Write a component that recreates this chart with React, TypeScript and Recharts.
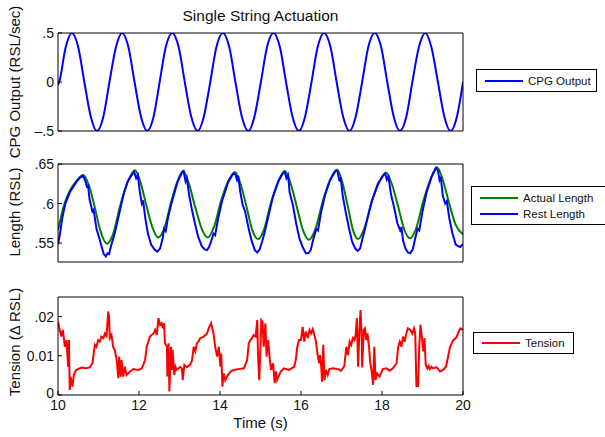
import { LineChart, Line, XAxis, YAxis } from "recharts";

const FONT = '"Liberation Sans", Arial, Helvetica, sans-serif';

const timeTicks = [10, 12, 14, 16, 18, 20];
const cpgTicks = [-0.5, 0, 0.5];
const lengthTicks = [0.55, 0.6, 0.65];
const tensionTicks = [0, 0.01, 0.02];

const cpgTickLabels: Record<string, string> = { "-0.5": "\u2013.5", "0": "0", "0.5": ".5" };
const lengthTickLabels: Record<string, string> = { "0.55": ".55", "0.6": ".6", "0.65": ".65" };
const tensionTickLabels: Record<string, string> = { "0": "0", "0.01": "0.01", "0.02": ".02" };

// [time (s), value]
const cpgOutput: [number, number][] = [
  [10.0, -0.03], [10.03, 0], [10.19, 0.354], [10.34, 0.5], [10.5, 0.354], [10.65, 0],
  [10.81, -0.354], [10.96, -0.5], [11.12, -0.354], [11.27, 0], [11.43, 0.354], [11.58, 0.5],
  [11.74, 0.354], [11.89, 0], [12.05, -0.354], [12.2, -0.5], [12.36, -0.354], [12.51, 0],
  [12.66, 0.354], [12.82, 0.5], [12.98, 0.354], [13.13, 0], [13.29, -0.354], [13.45, -0.5],
  [13.6, -0.354], [13.76, 0], [13.91, 0.354], [14.07, 0.5], [14.23, 0.354], [14.38, 0],
  [14.54, -0.354], [14.7, -0.5], [14.85, -0.354], [15.01, 0], [15.16, 0.354], [15.32, 0.5],
  [15.48, 0.354], [15.63, 0], [15.79, -0.354], [15.95, -0.5], [16.1, -0.354], [16.26, 0],
  [16.41, 0.354], [16.57, 0.5], [16.73, 0.354], [16.88, 0], [17.04, -0.354], [17.2, -0.5],
  [17.35, -0.354], [17.51, 0], [17.66, 0.354], [17.82, 0.5], [17.98, 0.354], [18.13, 0],
  [18.29, -0.354], [18.44, -0.5], [18.6, -0.354], [18.75, 0], [18.91, 0.354], [19.07, 0.5],
  [19.22, 0.354], [19.38, 0], [19.54, -0.354], [19.69, -0.5], [19.85, -0.354], [20.0, 0],
];

const actualLength: [number, number][] = [
  [10.0, 0.566], [10.15, 0.598], [10.3, 0.617], [10.45, 0.628], [10.62, 0.636], [10.75, 0.625],
  [10.9, 0.597], [11.05, 0.565], [11.21, 0.549], [11.35, 0.56], [11.55, 0.6], [11.72, 0.627],
  [11.9, 0.642], [12.03, 0.628], [12.18, 0.598], [12.33, 0.57], [12.47, 0.557], [12.62, 0.568],
  [12.8, 0.603], [12.95, 0.628], [13.09, 0.641], [13.22, 0.627], [13.38, 0.597], [13.55, 0.568],
  [13.7, 0.557], [13.85, 0.57], [14.03, 0.604], [14.2, 0.628], [14.37, 0.64], [14.5, 0.626],
  [14.65, 0.597], [14.8, 0.566], [14.94, 0.555], [15.08, 0.566], [15.27, 0.603], [15.44, 0.628],
  [15.6, 0.641], [15.74, 0.626], [15.9, 0.595], [16.05, 0.566], [16.2, 0.554], [16.35, 0.567],
  [16.55, 0.605], [16.72, 0.63], [16.89, 0.643], [17.02, 0.627], [17.15, 0.598], [17.28, 0.567],
  [17.41, 0.555], [17.56, 0.568], [17.75, 0.603], [17.93, 0.627], [18.1, 0.639], [18.24, 0.625],
  [18.4, 0.596], [18.55, 0.567], [18.69, 0.556], [18.84, 0.568], [19.02, 0.603], [19.2, 0.631],
  [19.36, 0.646], [19.5, 0.63], [19.66, 0.6], [19.82, 0.573], [20.0, 0.561],
];

const restLength: [number, number][] = [
  [10.0, 0.548], [10.05, 0.562], [10.1, 0.58], [10.18, 0.6], [10.3, 0.615], [10.45, 0.627],
  [10.55, 0.633], [10.62, 0.635], [10.68, 0.628], [10.72, 0.62], [10.74, 0.624], [10.78, 0.605],
  [10.85, 0.59], [10.88, 0.592], [10.95, 0.568], [11.02, 0.556], [11.08, 0.545], [11.13, 0.536],
  [11.18, 0.533], [11.22, 0.537], [11.26, 0.536], [11.32, 0.548], [11.4, 0.562], [11.48, 0.58],
  [11.55, 0.596], [11.62, 0.612], [11.72, 0.628], [11.82, 0.636], [11.88, 0.64], [11.93, 0.632],
  [11.97, 0.636], [12.02, 0.615], [12.07, 0.6], [12.1, 0.604], [12.16, 0.58], [12.22, 0.562],
  [12.3, 0.548], [12.38, 0.542], [12.45, 0.539], [12.52, 0.543], [12.58, 0.555], [12.62, 0.568],
  [12.66, 0.565], [12.72, 0.583], [12.8, 0.6], [12.95, 0.627], [13.06, 0.639], [13.1, 0.641],
  [13.15, 0.628], [13.18, 0.632], [13.24, 0.61], [13.3, 0.594], [13.38, 0.575], [13.46, 0.558],
  [13.55, 0.546], [13.62, 0.542], [13.68, 0.541], [13.73, 0.545], [13.78, 0.552], [13.84, 0.562],
  [13.88, 0.56], [13.95, 0.58], [14.05, 0.603], [14.2, 0.627], [14.33, 0.638], [14.38, 0.637],
  [14.42, 0.63], [14.45, 0.635], [14.5, 0.615], [14.56, 0.598], [14.62, 0.59], [14.7, 0.57],
  [14.78, 0.553], [14.86, 0.541], [14.92, 0.538], [14.98, 0.542], [15.04, 0.552], [15.1, 0.563],
  [15.2, 0.585], [15.3, 0.607], [15.44, 0.628], [15.55, 0.638], [15.6, 0.64], [15.64, 0.632],
  [15.68, 0.636], [15.72, 0.614], [15.8, 0.598], [15.88, 0.575], [15.96, 0.556], [16.04, 0.545],
  [16.12, 0.537], [16.18, 0.537], [16.24, 0.541], [16.3, 0.554], [16.38, 0.568], [16.42, 0.566],
  [16.5, 0.59], [16.6, 0.612], [16.72, 0.63], [16.85, 0.641], [16.9, 0.641], [16.95, 0.628],
  [16.98, 0.633], [17.03, 0.61], [17.1, 0.59], [17.18, 0.57], [17.26, 0.552], [17.34, 0.543],
  [17.4, 0.54], [17.46, 0.543], [17.52, 0.556], [17.58, 0.568], [17.66, 0.585], [17.75, 0.603],
  [17.9, 0.625], [18.02, 0.635], [18.08, 0.638], [18.12, 0.63], [18.16, 0.634], [18.22, 0.612],
  [18.3, 0.595], [18.38, 0.575], [18.45, 0.566], [18.48, 0.57], [18.52, 0.553], [18.58, 0.543],
  [18.64, 0.538], [18.7, 0.537], [18.76, 0.542], [18.82, 0.556], [18.88, 0.568], [18.92, 0.566],
  [19.0, 0.59], [19.1, 0.614], [19.22, 0.633], [19.33, 0.645], [19.38, 0.642], [19.42, 0.63],
  [19.45, 0.634], [19.5, 0.61], [19.56, 0.6], [19.6, 0.603], [19.66, 0.582], [19.74, 0.562],
  [19.82, 0.548], [19.88, 0.546], [19.93, 0.545], [20.0, 0.549],
];

const tension: [number, number][] = [
  [10.0, 0.0187], [10.08, 0.0149], [10.12, 0.0166], [10.17, 0.0123], [10.21, 0.014], [10.25, 0.0072],
  [10.27, 0.014], [10.29, 0.0013], [10.31, 0.0047], [10.36, 0.0021], [10.39, 0.0051], [10.45, 0.0064],
  [10.58, 0.007], [10.7, 0.0068], [10.79, 0.0071], [10.85, 0.0081], [10.91, 0.0128], [10.95, 0.0123],
  [10.99, 0.014], [11.03, 0.0136], [11.07, 0.0149], [11.12, 0.0145], [11.16, 0.0157], [11.2, 0.0151],
  [11.24, 0.0213], [11.26, 0.02], [11.28, 0.0145], [11.32, 0.0153], [11.36, 0.0123], [11.4, 0.0115],
  [11.45, 0.0089], [11.49, 0.0043], [11.51, 0.0098], [11.55, 0.0047], [11.57, 0.0089], [11.61, 0.0047],
  [11.65, 0.0072], [11.69, 0.0051], [11.78, 0.006], [11.86, 0.0066], [11.98, 0.0064], [12.07, 0.0068],
  [12.15, 0.0089], [12.19, 0.0123], [12.23, 0.0136], [12.27, 0.0149], [12.31, 0.0153], [12.36, 0.0157],
  [12.4, 0.0166], [12.44, 0.0153], [12.48, 0.0196], [12.52, 0.0179], [12.56, 0.0183], [12.59, 0.017],
  [12.62, 0.0183], [12.64, 0.0132], [12.69, 0.0123], [12.7, 0.0047], [12.73, 0.0132], [12.75, 0.0009],
  [12.79, 0.0123], [12.81, 0.0064], [12.83, 0.0115], [12.87, 0.0051], [12.9, 0.0072], [12.93, 0.0064],
  [12.98, 0.0068], [13.02, 0.0072], [13.06, 0.0068], [13.08, 0.0038], [13.12, 0.0077], [13.18, 0.0071],
  [13.26, 0.0077], [13.31, 0.0089], [13.35, 0.0123], [13.39, 0.0111], [13.43, 0.0132], [13.47, 0.0136],
  [13.51, 0.0145], [13.6, 0.0149], [13.68, 0.0157], [13.72, 0.017], [13.78, 0.0183], [13.84, 0.0157],
  [13.88, 0.0123], [13.93, 0.0098], [13.97, 0.0123], [14.01, 0.0072], [14.03, 0.0106], [14.06, 0.0021],
  [14.09, 0.0055], [14.13, 0.0038], [14.17, 0.0047], [14.26, 0.006], [14.34, 0.0064], [14.46, 0.0066],
  [14.59, 0.0068], [14.67, 0.0089], [14.71, 0.0132], [14.75, 0.014], [14.79, 0.0145], [14.83, 0.0153],
  [14.88, 0.0149], [14.92, 0.0191], [14.94, 0.0098], [14.97, 0.0038], [15.0, 0.0123], [15.02, 0.0191],
  [15.05, 0.0187], [15.08, 0.0123], [15.12, 0.0183], [15.15, 0.0098], [15.19, 0.014], [15.23, 0.0089],
  [15.26, 0.0064], [15.31, 0.0081], [15.35, 0.003], [15.38, 0.006], [15.41, 0.0038], [15.5, 0.006],
  [15.58, 0.0068], [15.7, 0.0064], [15.83, 0.0072], [15.87, 0.0089], [15.91, 0.0123], [15.95, 0.014],
  [16.0, 0.014], [16.04, 0.0174], [16.08, 0.0136], [16.12, 0.0162], [16.17, 0.0145], [16.21, 0.0166],
  [16.25, 0.0157], [16.29, 0.0168], [16.33, 0.0153], [16.37, 0.0136], [16.41, 0.0102], [16.45, 0.0081],
  [16.47, 0.0102], [16.5, 0.0072], [16.52, 0.0034], [16.55, 0.0128], [16.58, 0.0038], [16.62, 0.0064],
  [16.66, 0.0051], [16.7, 0.0066], [16.79, 0.0068], [16.91, 0.0066], [16.99, 0.0062], [17.07, 0.0074],
  [17.12, 0.0123], [17.16, 0.0102], [17.2, 0.0136], [17.24, 0.0128], [17.28, 0.0145], [17.32, 0.014],
  [17.35, 0.0153], [17.38, 0.0196], [17.41, 0.0072], [17.45, 0.0183], [17.47, 0.0217], [17.5, 0.0149],
  [17.51, 0.007], [17.55, 0.0166], [17.58, 0.017], [17.61, 0.014], [17.64, 0.0157], [17.68, 0.0123],
  [17.71, 0.0081], [17.74, 0.0064], [17.78, 0.0026], [17.81, 0.0123], [17.84, 0.0038], [17.88, 0.0055],
  [17.94, 0.0047], [18.02, 0.0066], [18.11, 0.0068], [18.19, 0.0062], [18.27, 0.0068], [18.36, 0.0081],
  [18.4, 0.0123], [18.44, 0.0136], [18.48, 0.0123], [18.52, 0.0149], [18.56, 0.0136], [18.6, 0.0157],
  [18.64, 0.017], [18.7, 0.0166], [18.75, 0.0157], [18.79, 0.017], [18.82, 0.0157], [18.85, 0.0023],
  [18.89, 0.0023], [18.92, 0.0123], [18.95, 0.0179], [18.98, 0.0153], [19.02, 0.0111], [19.05, 0.0145],
  [19.08, 0.0077], [19.12, 0.0068], [19.15, 0.0074], [19.18, 0.0066], [19.22, 0.0072], [19.26, 0.0068],
  [19.35, 0.0071], [19.43, 0.006], [19.51, 0.0064], [19.58, 0.0072], [19.64, 0.0102], [19.68, 0.0123],
  [19.76, 0.014], [19.84, 0.0147], [19.91, 0.0166], [19.94, 0.017], [20.0, 0.0166],
];

const toRows = (pts: [number, number][]) => pts.map(([t, v]) => ({ t, v }));

const tickStyle = { fontSize: 14, fill: "#111", fontFamily: FONT };

// y tick label; the lowest one is lifted a little when x labels sit right below it
const yTickRenderer = (labels: Record<string, string>, lowest: number, lift: number) => (props: any) => {
  const { x, y, payload } = props;
  const dy = payload.value === lowest ? -lift : 0;
  return (
    <text
      x={x}
      y={y + dy}
      textAnchor="end"
      dominantBaseline="central"
      fontSize={14}
      fill="#111"
      fontFamily={FONT}
    >
      {labels[String(payload.value)] ?? String(payload.value)}
    </text>
  );
};

// shared frame: box with inward ticks on all four sides
function frameAxes(
  yDomain: [number, number],
  yTicks: number[],
  labels: Record<string, string>,
  showX: boolean
) {
  return [
    <XAxis
      key="xb"
      xAxisId="b"
      dataKey="t"
      type="number"
      domain={[10, 20]}
      ticks={timeTicks}
      interval={0}
      allowDataOverflow
      height={showX ? 42 : 1}
      tickSize={-4}
      tickMargin={9}
      tick={showX ? tickStyle : false}
      stroke="#000"
      tickLine={{ stroke: "#000" }}
      label={showX ? { value: "Time (s)", position: "insideBottom", offset: 9, fontSize: 15, fill: "#111", fontFamily: FONT } : undefined}
    />,
    <XAxis
      key="xt"
      xAxisId="t"
      orientation="top"
      dataKey="t"
      type="number"
      domain={[10, 20]}
      ticks={timeTicks}
      interval={0}
      allowDataOverflow
      height={1}
      tickSize={-4}
      tick={false}
      stroke="#000"
      tickLine={{ stroke: "#000" }}
    />,
    <YAxis
      key="yl"
      yAxisId="l"
      type="number"
      domain={yDomain}
      ticks={yTicks}
      interval={0}
      allowDataOverflow
      width={58}
      tickSize={-4}
      tickMargin={8}
      tick={yTickRenderer(labels, yTicks[0], showX ? 2.5 : 0)}
      stroke="#000"
      tickLine={{ stroke: "#000" }}
    />,
    <YAxis
      key="yr"
      yAxisId="r"
      orientation="right"
      type="number"
      domain={yDomain}
      ticks={yTicks}
      interval={0}
      allowDataOverflow
      width={1}
      tickSize={-4}
      tick={false}
      stroke="#000"
      tickLine={{ stroke: "#000" }}
    />,
  ];
}

function YTitle({ text, cy }: { text: string; cy: number }) {
  return (
    <div
      style={{
        position: "absolute",
        left: 15 - 100,
        top: cy - 9,
        width: 200,
        height: 18,
        lineHeight: "18px",
        textAlign: "center",
        transform: "rotate(-90deg)",
        fontSize: 15,
        fontFamily: FONT,
        color: "#111",
        whiteSpace: "nowrap",
      }}
    >
      {text}
    </div>
  );
}

function LegendBox({
  left,
  top,
  width,
  height,
  items,
}: {
  left: number;
  top: number;
  width: number;
  height: number;
  items: { label: string; color: string; y: number }[];
}) {
  return (
    <div
      style={{
        position: "absolute",
        left,
        top,
        width,
        height,
        border: "1px solid #000",
        background: "#fff",
        boxSizing: "border-box",
      }}
    >
      {items.map((it) => (
        <div key={it.label}>
          <div
            style={{
              position: "absolute",
              left: 8,
              top: it.y - 1,
              width: 38,
              height: 2,
              background: it.color,
            }}
          />
          <div
            style={{
              position: "absolute",
              left: 51,
              top: it.y - 7,
              fontSize: 11.5,
              lineHeight: "14px",
              fontFamily: FONT,
              color: "#111",
              whiteSpace: "nowrap",
            }}
          >
            {it.label}
          </div>
        </div>
      ))}
    </div>
  );
}

export default function App() {
  const W = 605;
  return (
    <div style={{ position: "absolute", left: 0, top: 0, width: W, height: 437, background: "#fff", overflow: "hidden" }}>
      <div
        style={{
          position: "absolute",
          left: 160,
          top: 7,
          width: 201,
          textAlign: "center",
          fontSize: 15.5,
          fontFamily: FONT,
          color: "#111",
          whiteSpace: "nowrap",
        }}
      >
        Single String Actuation
      </div>

      <div style={{ position: "absolute", left: 0, top: 0 }}>
        <LineChart width={W} height={140} data={toRows(cpgOutput)} margin={{ top: 32, right: 141, bottom: 8, left: 0 }}>
          {frameAxes([-0.5, 0.5], cpgTicks, cpgTickLabels, false)}
          <Line
            xAxisId="b"
            yAxisId="l"
            dataKey="v"
            type="monotone"
            stroke="#0000ff"
            strokeWidth={2}
            dot={false}
            isAnimationActive={false}
          />
        </LineChart>
      </div>

      <div style={{ position: "absolute", left: 0, top: 140 }}>
        <LineChart width={W} height={130} margin={{ top: 23, right: 141, bottom: 7, left: 0 }}>
          {frameAxes([0.526, 0.65], lengthTicks, lengthTickLabels, false)}
          <Line
            xAxisId="b"
            yAxisId="l"
            data={toRows(actualLength)}
            dataKey="v"
            type="monotone"
            stroke="#008000"
            strokeWidth={2}
            dot={false}
            isAnimationActive={false}
          />
          <Line
            xAxisId="b"
            yAxisId="l"
            data={toRows(restLength)}
            dataKey="v"
            type="linear"
            stroke="#0000ff"
            strokeWidth={2}
            dot={false}
            isAnimationActive={false}
          />
        </LineChart>
      </div>

      <div style={{ position: "absolute", left: 0, top: 270 }}>
        <LineChart width={W} height={167} data={toRows(tension)} margin={{ top: 26, right: 141, bottom: 0, left: 0 }}>
          {frameAxes([0, 0.025], tensionTicks, tensionTickLabels, true)}
          <Line
            xAxisId="b"
            yAxisId="l"
            dataKey="v"
            type="linear"
            stroke="#ff0000"
            strokeWidth={2}
            dot={false}
            isAnimationActive={false}
          />
        </LineChart>
      </div>

      <YTitle text="CPG Output (RSL/sec)" cy={82} />
      <YTitle text="Length (RSL)" cy={212} />
      <YTitle text={"Tension (\u0394 RSL)"} cy={342} />

      <LegendBox left={476} top={69} width={121} height={23} items={[{ label: "CPG Output", color: "#0000ff", y: 11 }]} />
      <LegendBox
        left={471}
        top={186}
        width={136}
        height={39}
        items={[
          { label: "Actual Length", color: "#008000", y: 11 },
          { label: "Rest Length", color: "#0000ff", y: 27 },
        ]}
      />
      <LegendBox left={473} top={332} width={101} height={22} items={[{ label: "Tension", color: "#ff0000", y: 10 }]} />
    </div>
  );
}
